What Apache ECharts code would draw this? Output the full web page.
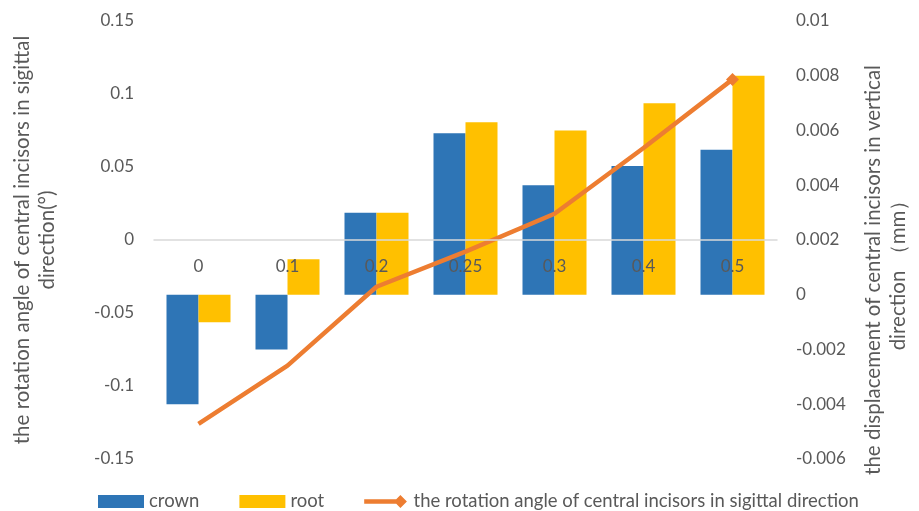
<!DOCTYPE html>
<html>
<head>
<meta charset="UTF-8">
<title>rotation and displacement</title>
<script src="https://cdn.jsdelivr.net/npm/echarts@6/dist/echarts.min.js"></script>
<style>
  html, body { margin: 0; padding: 0; background: #fff; }
  #main { width: 919px; height: 511px; }
</style>
</head>
<body>
<div id="main"></div>
<script>
// categories and values
var categories = ['0', '0.1', '0.2', '0.25', '0.3', '0.4', '0.5'];
var crown = [-0.004, -0.002, 0.003, 0.0059, 0.004, 0.0047, 0.0053];   // mm, right axis
var root = [-0.001, 0.0013, 0.003, 0.0063, 0.006, 0.007, 0.008];     // mm, right axis
var angle = [-0.126, -0.086, -0.032, -0.008, 0.018, 0.063, 0.110];  // degree, left axis

var txt = '#595959';
var font = 'Lato';
var lineName = 'the rotation angle of central incisors in sigittal direction';

// only the last point gets the diamond
var angleData = angle.map(function (v, i) {
    return i === angle.length - 1 ? { value: v } : { value: v, symbol: 'none' };
});

var chart = echarts.init(document.getElementById('main'));

var option = {
    animation: false,
    textStyle: { fontFamily: font },
    grid: { left: 154, right: 135, top: 21, bottom: 52 },
    legend: {
        top: 487,
        left: 93,
        itemGap: 40,
        itemWidth: 46,
        itemHeight: 13,
        textStyle: { color: txt, fontSize: 18.5, fontFamily: font },
        data: [
            { name: 'crown', icon: 'rect' },
            { name: 'root', icon: 'rect' },
            // thick line with the diamond at its right end, like the source legend
            { name: lineName, icon: 'path://M0,4.5 L34.5,4.5 L39,0 L46,7 L39,14 L34.5,9.5 L0,9.5 Z' }
        ]
    },
    xAxis: {
        type: 'category',
        data: categories,
        z: 10,
        axisLine: { onZero: true, onZeroAxisIndex: 0, lineStyle: { color: '#D9D9D9', width: 1.5 } },
        axisTick: { show: false },
        // labels sit just under the zero line, not at the bottom of the grid
        axisLabel: { color: txt, fontSize: 17, margin: -201 },
        splitLine: { show: false }
    },
    yAxis: [
        {
            type: 'value',
            min: -0.15, max: 0.15, interval: 0.05,
            name: 'the rotation angle of central incisors in sigittal\ndirection(°)',
            nameLocation: 'middle',
            nameRotate: 90,
            nameGap: 94,
            nameTextStyle: { color: txt, fontSize: 20.5, lineHeight: 25, fontFamily: font },
            axisLine: { show: false },
            axisTick: { show: false },
            splitLine: { show: false },
            axisLabel: { color: txt, fontSize: 17, margin: 20 }
        },
        {
            type: 'value',
            min: -0.006, max: 0.01, interval: 0.002,
            name: 'the displacement of central incisors in vertical\ndirection （mm）',
            nameLocation: 'middle',
            nameRotate: 90,
            nameGap: 84,
            nameTextStyle: { color: txt, fontSize: 20.5, lineHeight: 25, fontFamily: font, padding: [0, 60, 0, 0] },
            axisLine: { show: false },
            axisTick: { show: false },
            splitLine: { show: false },
            axisLabel: { color: txt, fontSize: 17, margin: 19 }
        }
    ],
    series: [
        {
            name: 'crown',
            type: 'bar',
            yAxisIndex: 1,
            data: crown,
            barWidth: 32,
            barGap: '0%',
            itemStyle: { color: '#2E75B6' }
        },
        {
            name: 'root',
            type: 'bar',
            yAxisIndex: 1,
            data: root,
            barWidth: 32,
            barGap: '0%',
            itemStyle: { color: '#FFC000' }
        },
        {
            name: lineName,
            type: 'line',
            yAxisIndex: 0,
            z: 5,
            data: angleData,
            symbol: 'diamond',
            symbolSize: 13,
            lineStyle: { color: '#ED7D31', width: 4.5 },
            itemStyle: { color: '#ED7D31' }
        }
    ]
};

chart.setOption(option);
</script>
</body>
</html>
